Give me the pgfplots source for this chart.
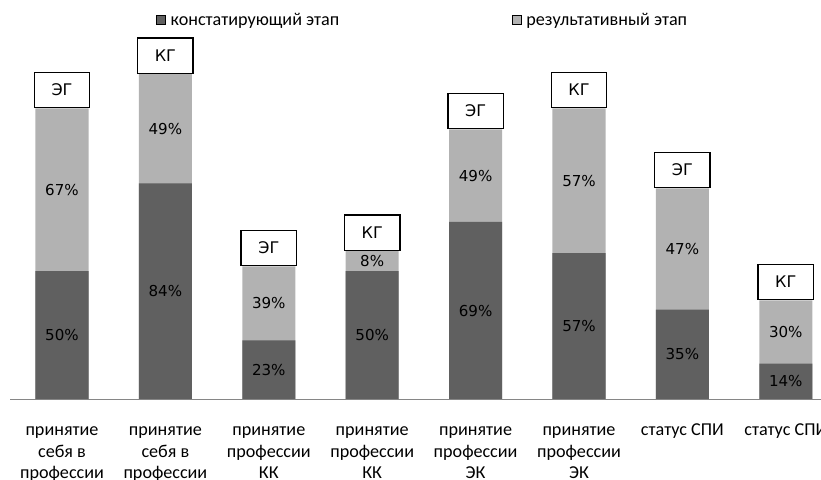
\documentclass[border=0pt]{standalone}
\usepackage{pgfplots}
\pgfplotsset{compat=1.18}
\usepackage{pgfplotstable}
\usepackage{fontspec}
\setmainfont{Carlito}
\newfontfamily\dejavu{DejaVu Sans}
\definecolor{darkbar}{RGB}{96,96,96}
\definecolor{lightbar}{RGB}{178,178,178}
\definecolor{axisgray}{RGB}{134,134,134}
\pgfplotstableread{
x d l dl ll g
0 50 63.5 50 67 ЭГ
1 84.3 42.7 84 49 КГ
2 23 28.8 23 39 ЭГ
3 50 7.9 50 8 КГ
4 69.2 36.1 69 49 ЭГ
5 57 56.5 57 57 КГ
6 35 47.3 35 47 ЭГ
7 13.9 24.7 14 30 КГ
}\data
\newcommand{\lab}{\fontsize{13.6}{16.1}\selectfont}
\newcommand{\dlab}{\dejavu\fontsize{11.3}{13}\selectfont}
\newcommand{\blab}{\dejavu\fontsize{12}{14}\selectfont}
\begin{document}
\begin{tikzpicture}
\begin{axis}[
  x=77.52pt, y=1.92pt,
  xmin=-0.5, xmax=7.5, ymin=0, ymax=130,
  axis x line*=bottom, axis y line=none,
  x axis line style={draw=axisgray, line width=0.75pt, -},
  xtick={0,...,7},
  xticklabels={{\strut принятие\\себя в\\профессии},{\strut принятие\\себя в\\профессии},{\strut принятие\\профессии\\КК},{\strut принятие\\профессии\\КК},{\strut принятие\\профессии\\ЭК},{\strut принятие\\профессии\\ЭК},{\strut статус СПИ},{\strut статус СПИ}},
  major tick length=0pt, xtick style={draw=none},
  xticklabel style={align=center, font=\lab, inner sep=0pt, anchor=north, yshift=-16pt},
  ytick=\empty,
  clip=false,
  legend style={at={(0.4985,1.139)}, anchor=center, draw=none, fill=none, legend columns=2, font=\lab, nodes={inner sep=1.5pt}, /tikz/every odd column/.append style={column sep=2.5pt}, /tikz/every even column/.append style={column sep=128pt}},
  legend image code/.code={\fill[#1] (0pt,-3.2pt) rectangle (6.4pt,3.2pt);},
]
\addlegendimage{fill=darkbar}
\addlegendentry{констатирующий этап}
\addlegendimage{fill=lightbar}
\addlegendentry{результативный этап}
\addplot[ybar, bar width=0.513, bar shift=0pt, fill=lightbar, draw=none, forget plot] table[x=x, y expr=\thisrow{d}+\thisrow{l}] {\data};
\addplot[ybar, bar width=0.513, bar shift=0pt, fill=darkbar, draw=none, forget plot] table[x=x, y=d] {\data};
\addplot[draw=none, mark=none, forget plot, point meta=explicit symbolic, nodes near coords={\pgfplotspointmeta\%}, every node near coord/.append style={anchor=center, font=\dlab, text=black}] table[x=x, y expr=\thisrow{d}/2, meta=dl] {\data};
\addplot[draw=none, mark=none, forget plot, point meta=explicit symbolic, nodes near coords={\pgfplotspointmeta\%}, every node near coord/.append style={anchor=center, font=\dlab, text=black}] table[x=x, y expr=\thisrow{d}+\thisrow{l}/2, meta=ll] {\data};
\addplot[draw=none, mark=none, forget plot, point meta=explicit symbolic, nodes near coords={\pgfplotspointmeta}, every node near coord/.append style={anchor=south, font=\blab, text=black, draw=black, line width=1pt, fill=white, minimum width=41.5pt, minimum height=26.5pt, inner sep=0pt}] table[x=x, y expr=\thisrow{d}+\thisrow{l}, meta=g] {\data};
\coordinate (bbl) at (axis cs:-0.5996,-31.25);
\coordinate (btr) at (axis cs:7.3404,155.86);
\end{axis}
\pgfresetboundingbox
\path[use as bounding box] (bbl) rectangle (btr);
\end{tikzpicture}
\end{document}
